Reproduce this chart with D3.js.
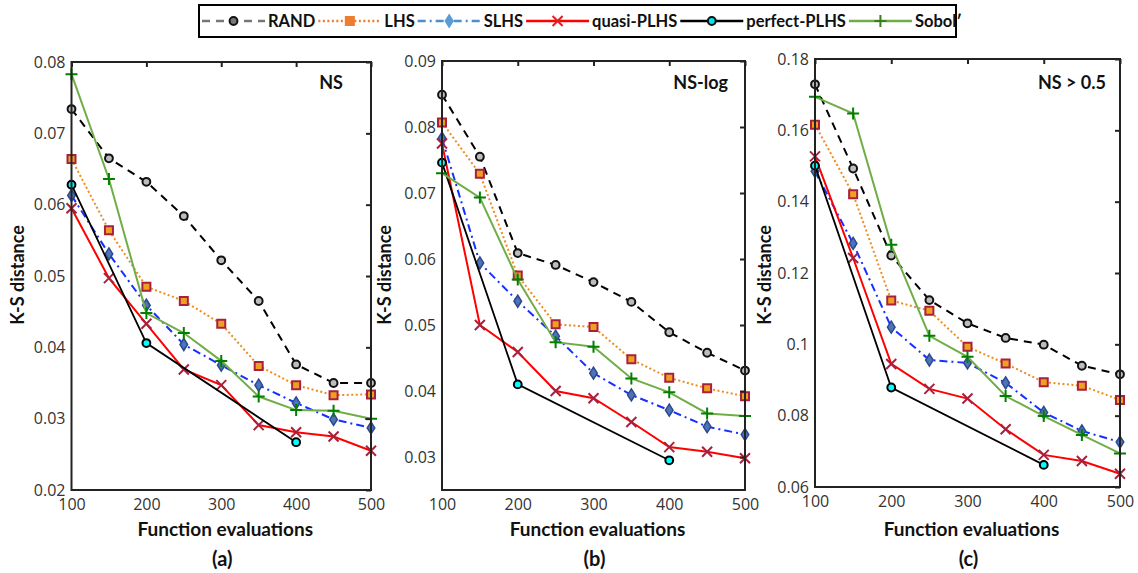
<!DOCTYPE html>
<html lang="en">
<head>
    <meta charset="UTF-8">
    <title>K-S distance</title>
    <script src="https://d3js.org/d3.v7.min.js"></script>
</head>
<style>
    html, body {
        margin: 0;
        padding: 0;
        background: #fff;
    }
    text {
        font-family: "Open Sans", sans-serif;
    }
    .lab {
        font-family: Lato, sans-serif;
        font-weight: bold;
        fill: #111;
    }
</style>
<body>
<svg id="chart" width="1138" height="573"></svg>

<script>
    // data
    var evals = [100, 150, 200, 250, 300, 350, 400, 450, 500]
    var perfectEvals = [100, 200, 400]
    var methods = ['RAND', 'LHS', 'SLHS', 'quasi-PLHS', 'perfect-PLHS', 'Sobol\u2032']
    var panelTitles = ['NS', 'NS-log', 'NS > 0.5']
    var panelTags = ['(a)', '(b)', '(c)']

    // (a) NS
    var nsRand = [0.0734, 0.0665, 0.0632, 0.0584, 0.0522, 0.0465, 0.0376, 0.0350, 0.0350]
    var nsLhs = [0.0664, 0.0564, 0.0485, 0.0465, 0.0433, 0.0374, 0.0347, 0.0333, 0.0334]
    var nsSlhs = [0.0613, 0.0531, 0.0459, 0.0404, 0.0375, 0.0347, 0.0322, 0.0299, 0.0287]
    var nsQuasi = [0.0595, 0.0497, 0.0433, 0.0369, 0.0347, 0.0291, 0.0281, 0.0275, 0.0255]
    var nsPerfect = [0.0628, 0.0406, 0.0267]
    var nsSobol = [0.0783, 0.0636, 0.0448, 0.0420, 0.0381, 0.0331, 0.0312, 0.0311, 0.0300]

    // (b) NS-log
    var logRand = [0.0849, 0.0755, 0.0609, 0.0591, 0.0565, 0.0535, 0.0489, 0.0458, 0.0431]
    var logLhs = [0.0807, 0.0729, 0.0575, 0.0501, 0.0497, 0.0448, 0.0420, 0.0404, 0.0392]
    var logSlhs = [0.0783, 0.0594, 0.0536, 0.0483, 0.0427, 0.0394, 0.0371, 0.0346, 0.0334]
    var logQuasi = [0.0775, 0.0500, 0.0459, 0.0400, 0.0389, 0.0353, 0.0315, 0.0308, 0.0298]
    var logPerfect = [0.0746, 0.0410, 0.0295]
    var logSobol = [0.0730, 0.0693, 0.0569, 0.0474, 0.0467, 0.0419, 0.0398, 0.0366, 0.0362]

    // (c) NS > 0.5
    var gtRand = [0.1729, 0.1493, 0.1249, 0.1124, 0.1059, 0.1018, 0.0999, 0.0940, 0.0916]
    var gtLhs = [0.1616, 0.1421, 0.1123, 0.1094, 0.0993, 0.0946, 0.0894, 0.0884, 0.0844]
    var gtSlhs = [0.1485, 0.1283, 0.1048, 0.0956, 0.0948, 0.0892, 0.0809, 0.0757, 0.0726]
    var gtQuasi = [0.1527, 0.1242, 0.0945, 0.0875, 0.0848, 0.0762, 0.0690, 0.0673, 0.0637]
    var gtPerfect = [0.1501, 0.0879, 0.0662]
    var gtSobol = [0.1694, 0.1647, 0.1279, 0.1024, 0.0965, 0.0855, 0.0799, 0.0746, 0.0694]

    var yDomains = [[0.02, 0.08], [0.025, 0.09], [0.06, 0.18]]
    var yTicks = [
        [0.02, 0.03, 0.04, 0.05, 0.06, 0.07, 0.08],
        [0.03, 0.04, 0.05, 0.06, 0.07, 0.08, 0.09],
        [0.06, 0.08, 0.1, 0.12, 0.14, 0.16, 0.18]
    ]
    var xTicks = [100, 200, 300, 400, 500]

    var panelSeries = [
        [nsRand, nsLhs, nsSlhs, nsQuasi, nsPerfect, nsSobol],
        [logRand, logLhs, logSlhs, logQuasi, logPerfect, logSobol],
        [gtRand, gtLhs, gtSlhs, gtQuasi, gtPerfect, gtSobol]
    ]

    //
    // layout + styles
    //
    var panels = [
        {left: 71.5, right: 371, top: 62, bottom: 490, ylab: 18, titleX: 343},
        {left: 442, right: 745, top: 61, bottom: 490, ylab: 385, titleX: 728},
        {left: 815, right: 1120, top: 59, bottom: 487, ylab: 765, titleX: 1106}
    ]

    var styles = [
        {line: '#000', dash: '8,6', w: 2, marker: 'circle', fill: '#bdbdbd', mstroke: '#111',
            lline: '#777', lfill: '#777'},
        {line: '#f08c1e', dash: '2,2.5', w: 2, marker: 'square', fill: '#f0a020', mstroke: '#a8203c',
            lline: '#ed7d31', lfill: '#ed7d31'},
        {line: '#1530ff', dash: '8,4,2,4', w: 2, marker: 'diamond', fill: '#4f72b8', mstroke: '#2a4a8e',
            lline: '#4a90d0', lfill: '#5b9bd5'},
        {line: '#ff0000', dash: null, w: 2, marker: 'x', fill: 'none', mstroke: '#a8203c',
            lline: '#ff0000', lfill: '#e02020'},
        {line: '#000', dash: null, w: 1.8, marker: 'circle', fill: '#00ffff', mstroke: '#000',
            lline: '#000', lfill: '#00e5ee'},
        {line: '#70ad47', dash: null, w: 2, marker: 'plus', fill: 'none', mstroke: '#008000',
            lline: '#70ad47', lfill: '#3a7d22'}
    ]

    var svg = d3.select('#chart')
    var fmt = function (v) { return String(+v.toFixed(2)) }

    function markerPath(type) {
        if (type === 'circle') return d3.symbol().type(d3.symbolCircle).size(48)()
        if (type === 'square') return 'M-4,-4H4V4H-4Z'
        if (type === 'diamond') return 'M0,-6L3.8,0L0,6L-3.8,0Z'
        if (type === 'x') return 'M-5,-5L5,5M-5,5L5,-5'
        return 'M-6,0H6M0,-6V6'
    }

    function drawMarker(g, x, y, st, legend) {
        var stroke = st.mstroke
        var fill = st.fill
        if (legend) {
            if (st.marker === 'x' || st.marker === 'plus') stroke = st.lfill
            else { fill = st.lfill; stroke = st.marker === 'circle' ? '#111' : st.lfill }
        }
        g.append('path')
            .attr('d', markerPath(st.marker))
            .attr('transform', 'translate(' + x + ',' + y + ')')
            .attr('fill', fill)
            .attr('stroke', stroke)
            .attr('stroke-width', st.marker === 'diamond' ? 1.5 : 2)
    }

    panels.forEach(function (p, i) {
        var g = svg.append('g')
        var x = d3.scaleLinear().domain([100, 500]).range([p.left, p.right])
        var y = d3.scaleLinear().domain(yDomains[i]).range([p.bottom, p.top])

        // series
        panelSeries[i].forEach(function (vals, k) {
            var st = styles[k]
            var xs = k === 4 ? perfectEvals : evals
            var pts = vals.map(function (v, j) { return [xs[j], v] })
            var line = d3.line().x(function (d) { return x(d[0]) }).y(function (d) { return y(d[1]) })
            g.append('path')
                .attr('d', line(pts))
                .attr('fill', 'none')
                .attr('stroke', st.line)
                .attr('stroke-width', st.w)
                .attr('stroke-dasharray', st.dash)
            pts.forEach(function (d) {
                drawMarker(g, x(d[0]), y(d[1]), st, false)
            })
        })

        // frame + inward ticks on top/right
        g.append('rect')
            .attr('x', p.left).attr('y', p.top)
            .attr('width', p.right - p.left).attr('height', p.bottom - p.top)
            .attr('fill', 'none').attr('stroke', '#222').attr('stroke-width', 2)

        var axB = d3.axisBottom(x).tickValues(xTicks).tickSize(0).tickPadding(9).tickFormat(d3.format('d'))
        var axL = d3.axisLeft(y).tickValues(yTicks[i]).tickSize(0).tickPadding(6).tickFormat(fmt)
        var axT = d3.axisBottom(x).tickValues(xTicks).tickSize(5).tickFormat('')
        var axR = d3.axisRight(y).tickValues(yTicks[i]).tickSize(-5).tickFormat('')

        ;[
            [axB, 'translate(0,' + p.bottom + ')'],
            [axL, 'translate(' + p.left + ',0)'],
            [axT, 'translate(0,' + p.top + ')'],
            [axR, 'translate(' + p.right + ',0)']
        ].forEach(function (a) {
            var ag = g.append('g').attr('transform', a[1]).call(a[0])
            ag.select('.domain').remove()
            ag.selectAll('line').attr('stroke', '#222').attr('stroke-width', 2)
            ag.selectAll('text')
                .attr('fill', '#333')
                .style('font-size', '16px')
                .style('font-family', '"Open Sans", sans-serif')
        })

        // labels
        g.append('text').attr('class', 'lab')
            .attr('x', (p.left + p.right) / 2 + 4).attr('y', 536)
            .attr('text-anchor', 'middle').style('font-size', '19px')
            .text('Function evaluations')
        g.append('text').attr('class', 'lab')
            .attr('x', (p.left + p.right) / 2 + 1).attr('y', 566)
            .attr('text-anchor', 'middle').style('font-size', '20px')
            .text(panelTags[i])
        g.append('text').attr('class', 'lab')
            .attr('transform', 'translate(' + (p.ylab + 6) + ',' + 275 + ') rotate(-90)')
            .attr('text-anchor', 'middle').style('font-size', '18px')
            .text('K-S distance')
        g.append('text').attr('class', 'lab')
            .attr('x', p.titleX).attr('y', 89)
            .attr('text-anchor', 'end').style('font-size', '18px')
            .text(panelTitles[i])
    })

    //
    // legend
    //
    var leg = svg.append('g')
    leg.append('rect')
        .attr('x', 199).attr('y', 5).attr('width', 757).attr('height', 32)
        .attr('fill', '#fff').attr('stroke', '#000').attr('stroke-width', 2)

    var cx = 202
    var ly = 21
    methods.forEach(function (m, k) {
        var st = styles[k]
        var len = 63
        leg.append('line')
            .attr('x1', cx).attr('x2', cx + len).attr('y1', ly).attr('y2', ly)
            .attr('stroke', st.lline).attr('stroke-width', 2.5)
            .attr('stroke-dasharray', st.dash)
        drawMarker(leg, cx + len / 2, ly, st, true)
        var t = leg.append('text').attr('class', 'lab')
            .attr('x', cx + len + 3).attr('y', ly + 6)
            .style('font-size', '16.5px')
            .text(m)
        var tw = t.node().getComputedTextLength()
        cx = cx + len + 3 + tw + 3
    })
</script>
</body>
</html>
